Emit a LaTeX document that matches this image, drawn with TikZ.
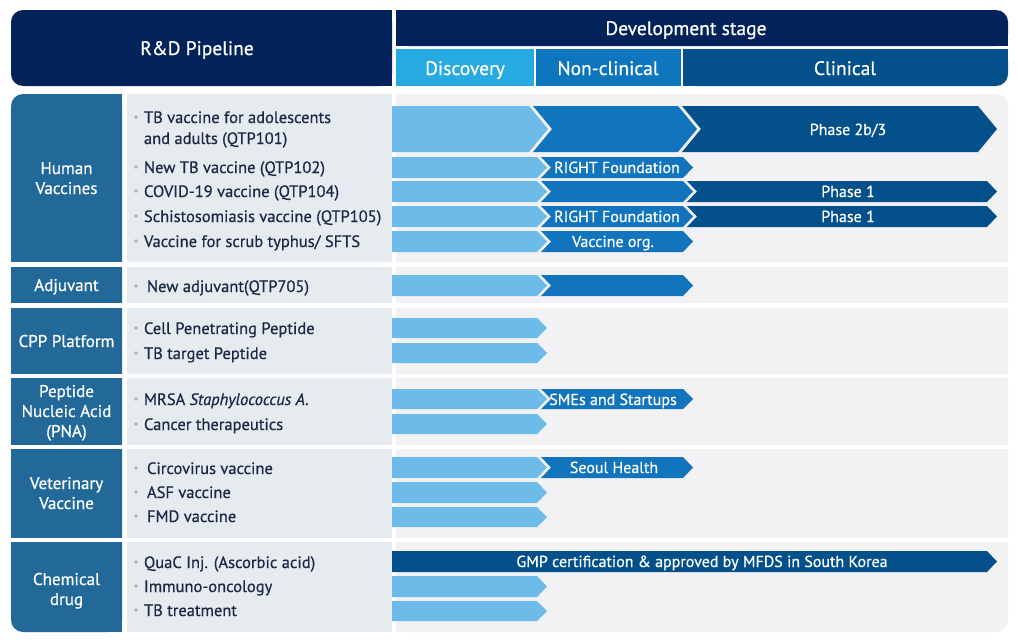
\documentclass[tikz,border=0pt]{standalone}
\usepackage{fontspec}
\setmainfont{PT Sans}[FakeBold=0.6]
\definecolor{navy}{HTML}{022359}
\definecolor{hdisc}{HTML}{27A9E1}
\definecolor{hnon}{HTML}{0E76BD}
\definecolor{hclin}{HTML}{03508B}
\definecolor{catbg}{HTML}{22699A}
\definecolor{itembg}{HTML}{E6EBEF}
\definecolor{rightbg}{HTML}{F2F2F4}
\definecolor{blight}{HTML}{6CBBE9}
\definecolor{bmid}{HTML}{1174BC}
\definecolor{bdark}{HTML}{04508A}
\definecolor{itemtxt}{HTML}{1B2846}
\definecolor{bulletc}{HTML}{9DB0C2}
\newcommand\segA[6]{%
  \pgfmathsetmacro\ymid{(#4+#5)/2}\pgfmathsetmacro\xtip{#3+#6}%
  \fill[#1] (#2,#4) -- (#3,#4) -- (\xtip,\ymid) -- (#3,#5) -- (#2,#5) -- cycle;}
\newcommand\segB[6]{%
  \pgfmathsetmacro\ymid{(#4+#5)/2}\pgfmathsetmacro\xtip{#3+#6}\pgfmathsetmacro\xnotch{#2+#6}%
  \fill[#1] (#2,#4) -- (#3,#4) -- (\xtip,\ymid) -- (#3,#5) -- (#2,#5) -- (\xnotch,\ymid) -- cycle;}
\begin{document}
\begin{tikzpicture}[x=1pt,y=-1pt,
  every node/.style={inner sep=0pt, outer sep=0pt},
  hdr/.style={text=white, anchor=base, font=\fontsize{19.5}{22}\selectfont},
  cat/.style={text=white, anchor=base, align=center, font=\fontsize{17}{20}\selectfont},
  item/.style={text=itemtxt, anchor=base west, align=left, font=\fontsize{16.5}{21}\selectfont},
  blab/.style={text=white, anchor=base, font=\fontsize{16}{18}\selectfont}]
\useasboundingbox (0,0) rectangle (1018,640);
\fill[white] (0,0) rectangle (1018,640);
% ---------- header
\fill[navy, rounded corners=12] (11,10) rectangle (392,86);
\fill[navy] (370,10) rectangle (392,86);
\node[hdr] (rd) at (197,55) {R\&D Pipeline};
\fill[navy, rounded corners=12] (396,10) rectangle (1008,46);
\fill[navy] (396,10) rectangle (420,46);
\fill[navy] (396,30) rectangle (1008,46);
\node[hdr] (dev) at (686,35) {Development stage};
\fill[hdisc] (396,49) rectangle (534,86);
\node[hdr] (disc) at (465,75) {Discovery};
\fill[hnon] (536,49) rectangle (681,86);
\node[hdr] (nonc) at (608,75) {Non-clinical};
\fill[hclin, rounded corners=12] (683,49) rectangle (1008,86);
\fill[hclin] (683,49) rectangle (1008,70);
\fill[hclin] (683,49) rectangle (710,86);
\node[hdr] (clin) at (845,75) {Clinical};
% ---------- body backgrounds
\fill[catbg, rounded corners=12] (11,94) rectangle (122,632);
\fill[catbg] (100,94) rectangle (122,632);
\fill[itembg] (127,94) rectangle (392,632);
\fill[rightbg, rounded corners=12] (396,94) rectangle (1008,632);
\fill[rightbg] (396,94) rectangle (420,632);
\foreach \ga/\gb in {262/267, 303/308, 374/378, 445/449, 538/542}
  \fill[white] (0,\ga) rectangle (1018,\gb);
% ---------- categories (anchor = baseline of last line)
\node[cat] (c1) at (66.5,194) {Human\\Vaccines};
\node[cat] (c2) at (66.5,291) {Adjuvant};
\node[cat] (c3) at (66.5,347) {CPP Platform};
\node[cat] (c4) at (66.5,437) {Peptide\\Nucleic Acid\\(PNA)};
\node[cat] (c5) at (66.5,509) {Veterinary\\Vaccine};
\node[cat] (c6) at (66.5,605) {Chemical\\drug};
% ---------- items
\foreach \yy in {117,167,191,216,241,286,328,353,399,424,468,492,516,562,586,610}
  \fill[bulletc] (136,\yy) circle (1.8);
\node[item] (i1) at (144,144) {TB vaccine for adolescents\\and adults (QTP101)};
\node[item] (i2) at (144,173) {New TB vaccine (QTP102)};
\node[item] (i3) at (144,197) {COVID-19 vaccine (QTP104)};
\node[item] (i4) at (144,222) {Schistosomiasis vaccine (QTP105)};
\node[item] (i5) at (144,247) {Vaccine for scrub typhus/ SFTS};
\node[item] (i6) at (147,292) {New adjuvant(QTP705)};
\node[item] (i7) at (144,334) {Cell Penetrating Peptide};
\node[item] (i8) at (144,359) {TB target Peptide};
\node[item] (i9) at (144,405) {MRSA \textit{Staphylococcus A.}};
\node[item] (i10) at (144,430) {Cancer therapeutics};
\node[item] (i11) at (147,474) {Circovirus vaccine};
\node[item] (i12) at (147,498) {ASF vaccine};
\node[item] (i13) at (147,522) {FMD vaccine};
\node[item] (i14) at (144,568) {QuaC Inj. (Ascorbic acid)};
\node[item] (i15) at (144,592) {Immuno-oncology};
\node[item] (i16) at (144,616) {TB treatment};
% ---------- bars
% QTP101 (big)
\segA{blight}{392}{529}{106}{152}{19}
\segB{bmid}{533}{678}{106}{152}{19}
\segB{bdark}{682}{978}{106}{152}{19}
\node[blab] (p1) at (848,135) {Phase 2b/3};
% QTP102
\segA{blight}{392}{537}{157}{178}{10}
\segB{bmid}{541}{683}{157}{178}{10}
\node[blab] (p2) at (617,173) {RIGHT Foundation};
% QTP104
\segA{blight}{392}{537}{181}{202}{10}
\segB{bmid}{541}{683}{181}{202}{10}
\segB{bdark}{687}{987}{181}{202}{10}
\node[blab] (p3) at (848,197) {Phase 1};
% QTP105
\segA{blight}{392}{537}{206}{227}{10}
\segB{bmid}{541}{683}{206}{227}{10}
\segB{bdark}{687}{987}{206}{227}{10}
\node[blab] (p4) at (617,222) {RIGHT Foundation};
\node[blab] (p5) at (848,222) {Phase 1};
% scrub typhus
\segA{blight}{392}{537}{231}{252}{10}
\segB{bmid}{541}{683}{231}{252}{10}
\node[blab] (p6) at (613,247) {Vaccine org.};
% adjuvant
\segA{blight}{392}{537}{275}{296}{10}
\segB{bmid}{541}{683}{275}{296}{10}
% CPP
\segA{blight}{392}{537}{318}{338}{10}
\segA{blight}{392}{537}{343}{363}{10}
% PNA
\segA{blight}{392}{537}{389}{409}{10}
\segB{bmid}{541}{683}{389}{409}{10}
\node[blab] (p7) at (613,405) {SMEs and Startups};
\segA{blight}{392}{537}{414}{434}{10}
% Veterinary
\segA{blight}{392}{537}{457}{478}{10}
\segB{bmid}{541}{683}{457}{478}{10}
\node[blab] (p8) at (614,473) {Seoul Health};
\segA{blight}{392}{537}{482}{503}{10}
\segA{blight}{392}{537}{507}{527}{10}
% Chemical
\segA{bdark}{392}{987}{551}{572}{10}
\node[blab] (p9) at (702,567) {GMP certification \& approved by MFDS in South Korea};
\segA{blight}{392}{537}{576}{597}{10}
\segA{blight}{392}{537}{601}{621}{10}
\end{tikzpicture}
\end{document}
